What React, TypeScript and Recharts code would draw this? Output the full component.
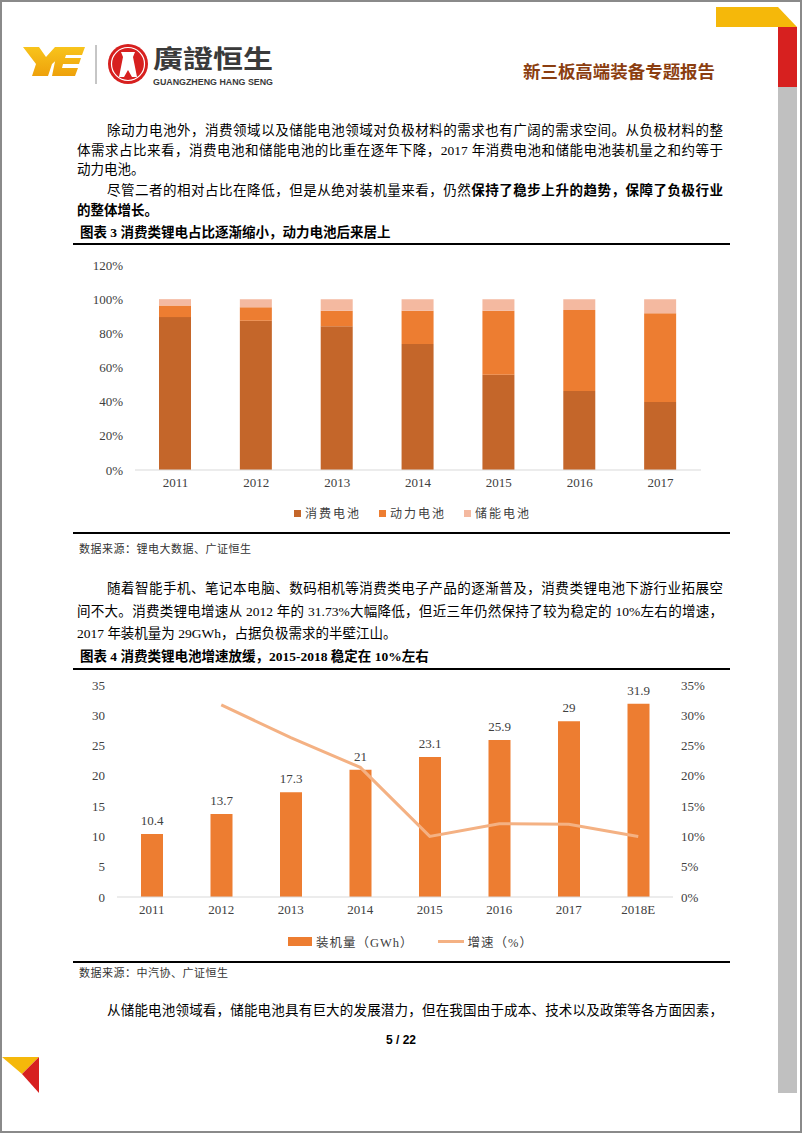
import React from "react";
import { Bar, BarChart, ComposedChart, LabelList, Legend, Line, XAxis, YAxis } from "recharts";

// 图表3：消费类/动力/储能电池占比（%）
const shareYears = ["2011", "2012", "2013", "2014", "2015", "2016", "2017"];
const consumerShare = [89.5, 87.3, 84.2, 73.8, 55.7, 46.3, 39.8];
const powerShare = [6.8, 8.0, 9.0, 19.4, 37.5, 47.4, 52.0];
const storageShare = [3.7, 4.7, 6.8, 6.8, 6.8, 6.3, 8.2];
const shareTicks = [0, 20, 40, 60, 80, 100, 120];

// 图表4：消费类锂电池装机量与增速
const installYears = ["2011", "2012", "2013", "2014", "2015", "2016", "2017", "2018E"];
const installed = [10.4, 13.7, 17.3, 21, 23.1, 25.9, 29, 31.9];
const growth = [null, 31.73, 26.3, 21.4, 10.0, 12.1, 12.0, 10.0];
const gwhTicks = [0, 5, 10, 15, 20, 25, 30, 35];
const pctTicks = [0, 5, 10, 15, 20, 25, 30, 35];

const SERIF = '"Liberation Serif", "Times New Roman", serif';
const BODY = '"Liberation Serif", "Noto Sans CJK SC", serif';
const AXIS_TEXT = "#404040";

const C_CONSUMER = "#C4662A";
const C_POWER = "#ED7D31";
const C_STORAGE = "#F4B9A0";
const C_LINE = "#F4B183";

const shareData = shareYears.map((year, i) => ({
  year,
  consumer: consumerShare[i],
  power: powerShare[i],
  storage: storageShare[i],
}));

const installData = installYears.map((year, i) => ({
  year,
  installed: installed[i],
  growth: growth[i],
}));

function TextLine({
  y,
  x = 77,
  w = 646,
  justify = true,
  size = 13.5,
  bold = false,
  children,
}: {
  y: number;
  x?: number;
  w?: number;
  justify?: boolean;
  size?: number;
  bold?: boolean;
  children: React.ReactNode;
}) {
  return (
    <div
      style={{
        position: "absolute",
        left: x,
        top: y - 10,
        width: w,
        height: 20,
        lineHeight: "20px",
        fontSize: size,
        fontWeight: bold ? 700 : 400,
        fontFamily: BODY,
        color: "#000",
        textAlign: justify ? "justify" : "left",
        textAlignLast: justify ? "justify" : "left",
      }}
    >
      {children}
    </div>
  );
}

function Rule({ y }: { y: number }) {
  return <div style={{ position: "absolute", left: 73, top: y - 1, width: 657, height: 2, background: "#000" }} />;
}

function Source({ y, text }: { y: number; text: string }) {
  return (
    <div style={{ position: "absolute", left: 79, top: y - 8, fontSize: 11, lineHeight: "16px", fontFamily: BODY, color: "#333", letterSpacing: 0.5 }}>
      {text}
    </div>
  );
}

function ShareLegend() {
  const items = [
    { label: "消费电池", color: C_CONSUMER },
    { label: "动力电池", color: C_POWER },
    { label: "储能电池", color: C_STORAGE },
  ];
  return (
    <div style={{ display: "flex", alignItems: "center", height: 26, paddingLeft: 234 }}>
      {items.map((it) => (
        <div key={it.label} style={{ display: "flex", alignItems: "center", marginRight: 18 }}>
          <span style={{ width: 7, height: 7, background: it.color, display: "inline-block", marginRight: 4 }} />
          <span style={{ fontSize: 12, letterSpacing: 2, fontFamily: BODY, color: AXIS_TEXT }}>{it.label}</span>
        </div>
      ))}
    </div>
  );
}

function InstallLegend() {
  return (
    <div style={{ display: "flex", alignItems: "center", height: 28, paddingLeft: 228 }}>
      <span style={{ width: 24, height: 9, background: C_POWER, display: "inline-block", marginRight: 4 }} />
      <span style={{ fontSize: 12.5, fontFamily: BODY, color: AXIS_TEXT, letterSpacing: 1 }}>装机量（GWh）</span>
      <span style={{ width: 26, height: 3, background: C_LINE, display: "inline-block", marginLeft: 24, marginRight: 4 }} />
      <span style={{ fontSize: 12.5, fontFamily: BODY, color: AXIS_TEXT, letterSpacing: 1 }}>增速（%）</span>
    </div>
  );
}

function ShareChart() {
  return (
    <BarChart width={680} height={280} data={shareData} margin={{ top: 15, right: 39, left: 0, bottom: 0 }}>
      <XAxis
        dataKey="year"
        axisLine={{ stroke: "#D9D9D9" }}
        tickLine={false}
        height={30}
        tick={{ fill: AXIS_TEXT, fontSize: 13, fontFamily: SERIF }}
      />
      <YAxis
        domain={[0, 120]}
        ticks={shareTicks}
        tickFormatter={(v: number) => `${v}%`}
        axisLine={false}
        tickLine={false}
        width={75}
        tickMargin={6}
        tick={{ fill: AXIS_TEXT, fontSize: 13, fontFamily: SERIF }}
      />
      <Bar dataKey="consumer" stackId="s" fill={C_CONSUMER} barSize={32} isAnimationActive={false} />
      <Bar dataKey="power" stackId="s" fill={C_POWER} barSize={32} isAnimationActive={false} />
      <Bar dataKey="storage" stackId="s" fill={C_STORAGE} barSize={32} isAnimationActive={false} />
      <Legend verticalAlign="bottom" height={30} content={() => <ShareLegend />} />
    </BarChart>
  );
}

function InstallChart() {
  return (
    <ComposedChart width={680} height={290} data={installData} margin={{ top: 15, right: 17, left: 0, bottom: 0 }}>
      <XAxis
        dataKey="year"
        axisLine={{ stroke: "#D9D9D9" }}
        tickLine={false}
        height={30}
        tick={{ fill: AXIS_TEXT, fontSize: 13, fontFamily: SERIF }}
      />
      <YAxis
        yAxisId="gwh"
        domain={[0, 35]}
        ticks={gwhTicks}
        axisLine={false}
        tickLine={false}
        width={57}
        tickMargin={6}
        tick={{ fill: AXIS_TEXT, fontSize: 13, fontFamily: SERIF }}
      />
      <YAxis
        yAxisId="pct"
        orientation="right"
        domain={[0, 35]}
        ticks={pctTicks}
        tickFormatter={(v: number) => `${v}%`}
        axisLine={false}
        tickLine={false}
        width={50}
        tickMargin={2}
        tick={{ fill: AXIS_TEXT, fontSize: 13, fontFamily: SERIF }}
      />
      <Bar yAxisId="gwh" dataKey="installed" fill={C_POWER} barSize={22} isAnimationActive={false}>
        <LabelList dataKey="installed" position="top" offset={9} fill={AXIS_TEXT} fontSize={13} fontFamily={SERIF} />
      </Bar>
      <Line
        yAxisId="pct"
        dataKey="growth"
        type="linear"
        stroke={C_LINE}
        strokeWidth={3}
        dot={false}
        isAnimationActive={false}
      />
      <Legend verticalAlign="bottom" height={33} content={() => <InstallLegend />} />
    </ComposedChart>
  );
}

function PageDecor() {
  return (
    <svg width={802} height={1133} style={{ position: "absolute", left: 0, top: 0 }}>
      <defs>
        <linearGradient id="ye" x1="0" y1="0" x2="0" y2="1">
          <stop offset="0" stopColor="#F8C41C" />
          <stop offset="1" stopColor="#EEA10B" />
        </linearGradient>
      </defs>
      {/* 右上角色块 */}
      <polygon points="716,7 778,7 797,27 716,27" fill="#F5B80A" />
      <rect x={778} y={27} width={19} height={60} fill="#D7201F" />
      <rect x={778} y={87} width={19} height={1006} fill="#C0C0C0" />
      {/* 左下角三角 */}
      <polygon points="2,1057 39,1057 22,1074" fill="#F5B80A" />
      <polygon points="39,1057 22,1074 39,1093" fill="#D7201F" />
      {/* logo */}
      <polygon points="23,47 39,47 46,57 55,47 71,47 52,64 48,76 32,76 36,64" fill="url(#ye)" />
      <polygon points="58,47 85,47 82,55 66,55 65,58 81,58 79,64 63,64 62,68 78,68 75,76 52,76" fill="url(#ye)" />
      <line x1={96} y1={45} x2={96} y2={84} stroke="#8c8c8c" strokeWidth={1} />
      <circle cx={128} cy={64} r={20} fill="#D7201F" />
      <circle cx={128} cy={64} r={16.5} fill="none" stroke="#fff" strokeWidth={1.2} />
      <polygon points="121,52 135,52 133,57 137,77 132,77 128,70 124,77 119,77 123,57" fill="#fff" />
      <text x={153} y={68} fontSize={25} fontWeight={700} fill="#3a3a3a" fontFamily='"Noto Sans CJK TC", "Noto Sans CJK SC"' textLength={120} lengthAdjust="spacingAndGlyphs">
        廣證恒生
      </text>
      <text x={153} y={85} fontSize={9.5} fontWeight={700} fill="#3a3a3a" fontFamily='"Liberation Sans Narrow", "Liberation Sans", sans-serif' textLength={120} lengthAdjust="spacingAndGlyphs">
        GUANGZHENG HANG SENG
      </text>
      <text x={523} y={78} fontSize={17} fontWeight={700} fill="#8B3E10" fontFamily='"Noto Sans CJK SC"' textLength={192} lengthAdjust="spacingAndGlyphs">
        新三板高端装备专题报告
      </text>
    </svg>
  );
}

export default function App() {
  return (
    <div
      style={{
        position: "absolute",
        left: 0,
        top: 0,
        width: 802,
        height: 1133,
        boxSizing: "border-box",
        border: "2px solid #8a8a8a",
        background: "#fff",
        overflow: "hidden",
      }}
    >
      <div style={{ position: "absolute", left: -2, top: -2, width: 802, height: 1133 }}>
        <PageDecor />

        <TextLine y={131} x={107} w={616}>
          除动力电池外，消费领域以及储能电池领域对负极材料的需求也有广阔的需求空间。从负极材料的整
        </TextLine>
        <TextLine y={151}>
          体需求占比来看，消费电池和储能电池的比重在逐年下降，2017 年消费电池和储能电池装机量之和约等于
        </TextLine>
        <TextLine y={170} justify={false}>
          动力电池。
        </TextLine>
        <TextLine y={191} x={107} w={616}>
          尽管二者的相对占比在降低，但是从绝对装机量来看，仍然<b>保持了稳步上升的趋势，保障了负极行业</b>
        </TextLine>
        <TextLine y={211} justify={false} bold>
          的整体增长。
        </TextLine>

        <TextLine y={233} x={80} w={500} justify={false} bold>
          图表 3 消费类锂电占比逐渐缩小，动力电池后来居上
        </TextLine>
        <Rule y={244} />

        <div style={{ position: "absolute", left: 60, top: 250 }}>
          <ShareChart />
        </div>

        <Rule y={533} />
        <Source y={549} text="数据来源：锂电大数据、广证恒生" />

        <TextLine y={589} x={107} w={616}>
          随着智能手机、笔记本电脑、数码相机等消费类电子产品的逐渐普及，消费类锂电池下游行业拓展空
        </TextLine>
        <TextLine y={612}>
          间不大。消费类锂电增速从 2012 年的 31.73%大幅降低，但近三年仍然保持了较为稳定的 10%左右的增速，
        </TextLine>
        <TextLine y={634} justify={false}>
          2017 年装机量为 29GWh，占据负极需求的半壁江山。
        </TextLine>

        <TextLine y={657} x={80} w={600} justify={false} bold>
          图表 4 消费类锂电池增速放缓，2015-2018 稳定在 10%左右
        </TextLine>
        <Rule y={669} />

        <div style={{ position: "absolute", left: 60, top: 670 }}>
          <InstallChart />
        </div>

        <Rule y={962} />
        <Source y={973} text="数据来源：中汽协、广证恒生" />

        <TextLine y={1011} x={107} w={616}>
          从储能电池领域看，储能电池具有巨大的发展潜力，但在我国由于成本、技术以及政策等各方面因素，
        </TextLine>

        <div
          style={{
            position: "absolute",
            left: 0,
            width: 802,
            top: 1033,
            textAlign: "center",
            fontSize: 12,
            fontWeight: 700,
            fontFamily: '"Liberation Sans Narrow", "Liberation Sans", sans-serif',
            color: "#000",
          }}
        >
          5 / 22
        </div>
      </div>
    </div>
  );
}
